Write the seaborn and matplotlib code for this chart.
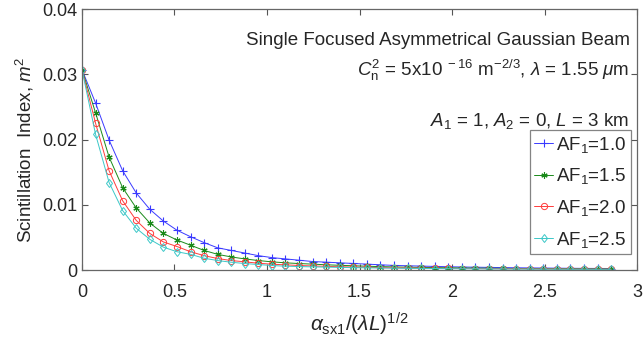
import numpy as np
import pandas as pd
import seaborn as sns
import matplotlib
matplotlib.use("Agg")
import matplotlib.pyplot as plt

# normalised source size alpha_sx1 / sqrt(lambda L), 40 samples
x_norm = list(np.linspace(0.0, 2.86, 40))

si_af10 = [0.0307, 0.0256, 0.0199, 0.0152, 0.0118, 0.0093, 0.0075, 0.0061, 0.0051, 0.0042,
           0.0034, 0.0030, 0.0026, 0.0022, 0.0019, 0.0017, 0.0015, 0.0013, 0.0012, 0.0011,
           0.0010, 0.0009, 0.0008, 0.0007, 0.00065, 0.0006, 0.00055, 0.0005, 0.00046, 0.00043,
           0.0004, 0.00037, 0.00034, 0.00032, 0.0003, 0.00028, 0.00026, 0.00025, 0.00024, 0.00023]
si_af15 = [0.0307, 0.0241, 0.0173, 0.0126, 0.0095, 0.0072, 0.0056, 0.0046, 0.0038, 0.0030,
           0.0024, 0.0020, 0.0017, 0.00145, 0.00125, 0.0011, 0.00099, 0.0009, 0.0008, 0.00072,
           0.00065, 0.00058, 0.00052, 0.00047, 0.00043, 0.0004, 0.00037, 0.00034, 0.00031, 0.00029,
           0.00027, 0.00025, 0.00023, 0.00022, 0.00021, 0.0002, 0.00019, 0.00018, 0.00017, 0.00016]
si_af20 = [0.0307, 0.0225, 0.0152, 0.0106, 0.0076, 0.0056, 0.0043, 0.0036, 0.0028, 0.0022,
           0.00176, 0.00145, 0.00125, 0.00104, 0.00089, 0.00079, 0.00069, 0.00062, 0.00056, 0.0005,
           0.00045, 0.00041, 0.00037, 0.00034, 0.00031, 0.00029, 0.00027, 0.00025, 0.00023, 0.00021,
           0.0002, 0.00019, 0.00018, 0.00017, 0.00016, 0.00015, 0.00014, 0.00014, 0.00013, 0.00013]
si_af25 = [0.0307, 0.0208, 0.0134, 0.0091, 0.0064, 0.0047, 0.0035, 0.0028, 0.0024, 0.0018,
           0.00145, 0.00119, 0.00099, 0.00084, 0.00069, 0.00058, 0.00053, 0.00048, 0.00044, 0.0004,
           0.00036, 0.00033, 0.0003, 0.00028, 0.00026, 0.00024, 0.00022, 0.0002, 0.00019, 0.00018,
           0.00017, 0.00016, 0.00015, 0.00014, 0.00013, 0.00013, 0.00012, 0.00012, 0.00011, 0.00011]

series_labels = ["AF$_1$=1.0", "AF$_1$=1.5", "AF$_1$=2.0", "AF$_1$=2.5"]
x_ticks = [0, 0.5, 1, 1.5, 2, 2.5, 3]
x_tick_labels = ["0", "0.5", "1", "1.5", "2", "2.5", "3"]
y_ticks = [0, 0.01, 0.02, 0.03, 0.04]
y_tick_labels = ["0", "0.01", "0.02", "0.03", "0.04"]

sns.set_style("ticks")
plt.rcParams["font.family"] = ["Liberation Sans", "DejaVu Sans"]
plt.rcParams["mathtext.fontset"] = "custom"
plt.rcParams["mathtext.rm"] = "Liberation Sans"
plt.rcParams["mathtext.it"] = "Liberation Sans:italic"
plt.rcParams["mathtext.bf"] = "Liberation Sans:bold"
plt.rcParams["xtick.direction"] = "in"
plt.rcParams["ytick.direction"] = "in"

df = pd.DataFrame({
    "x": x_norm * 4,
    "si": si_af10 + si_af15 + si_af20 + si_af25,
    "case": sum([[lab] * len(x_norm) for lab in series_labels], []),
})

fig = plt.figure(figsize=(6.43, 3.41), dpi=100)
ax = fig.add_axes([0.1275, 0.2082, 0.8632, 0.7654])

styles = [
    ("#3a3aff", "+", 5.5, 0.8),
    ("#1a8a1a", (6, 2, 0), 4.5, 0.8),
    ("#ff3b3b", "o", 4.5, 0.7),
    ("#3cc8c8", "d", 4.5, 0.7),
]
for lab, (col, mk, ms, mew) in zip(series_labels, styles):
    sub = df[df["case"] == lab]
    sns.lineplot(data=sub, x="x", y="si", ax=ax, color=col, marker=mk,
                 markersize=ms, markeredgewidth=mew, markerfacecolor="none",
                 markeredgecolor=col, linewidth=0.7, label=lab)

ax.set_xlim(0, 3)
ax.set_ylim(0, 0.04)
ax.set_xticks(x_ticks)
ax.set_xticklabels(x_tick_labels)
ax.set_yticks(y_ticks)
ax.set_yticklabels(y_tick_labels)
ax.tick_params(axis="both", labelsize=13, length=4, width=0.8, color="#555555",
               top=True, right=True)
ax.tick_params(axis="y", pad=3)
ax.tick_params(axis="x", pad=10)
for sp in ax.spines.values():
    sp.set_color("#666666")
    sp.set_linewidth(0.9)

ax.set_xlabel(r"$\alpha_{\mathrm{sx1}}/(\lambda L)^{1/2}$", fontsize=15)
ax.xaxis.set_label_coords(0.5, -0.155)
ax.set_ylabel(r"Scintillation  Index, $m^2$", fontsize=13.5)
ax.yaxis.set_label_coords(-0.082, 0.46)

ax.text(2.96, 0.0351, "Single Focused Asymmetrical Gaussian Beam",
        ha="right", va="center", fontsize=13.5)
ax.text(2.96, 0.0306,
        r"$C_{\mathrm{n}}^{2}$ = 5x10$^{\mathrm{\ -16}}$ m$^{\mathrm{-2/3}}$, $\lambda$ = 1.55 $\mu$m",
        ha="right", va="center", fontsize=13.5)
ax.text(2.96, 0.0229, r"$A_1$ = 1, $A_2$ = 0, $L$ = 3 km",
        ha="right", va="center", fontsize=13.5)

leg = ax.legend(loc="upper right", bbox_to_anchor=(0.989, 0.536), fontsize=13.5,
                frameon=True, fancybox=False, edgecolor="#666666",
                handlelength=1.0, handletextpad=0.15, borderpad=0.25,
                labelspacing=0.62, borderaxespad=0.0)
leg.get_frame().set_linewidth(0.9)
leg.set_zorder(10)

fig.savefig("out.png", dpi=100)
